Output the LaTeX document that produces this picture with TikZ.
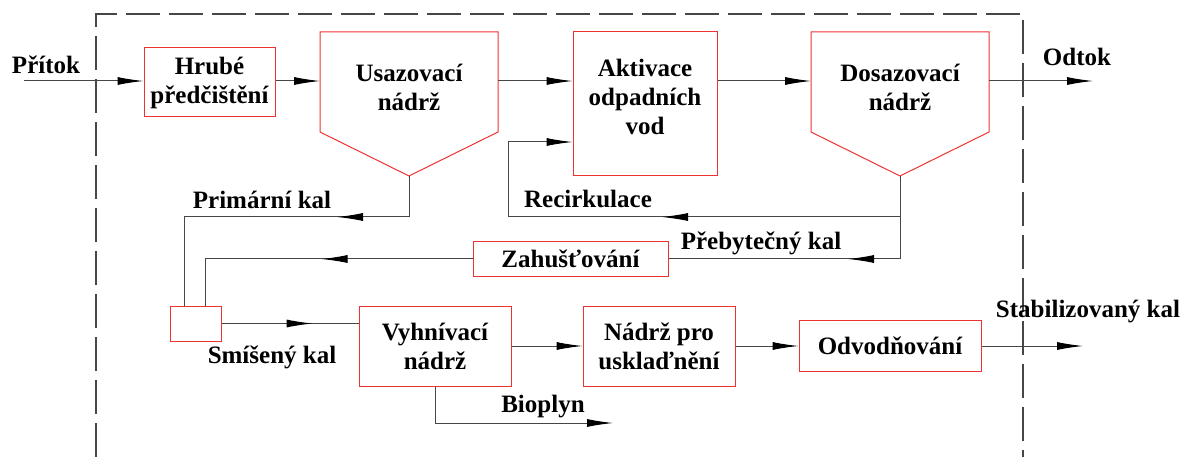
\documentclass[tikz,border=0pt]{standalone}
\usepackage{fontspec}
\setmainfont{Liberation Serif}
\usetikzlibrary{arrows.meta,decorations.markings}
\definecolor{boxred}{RGB}{238,50,50}
\definecolor{linegray}{RGB}{70,70,70}
\tikzset{
  flowhead/.tip={Latex[length=26pt,width=8pt,color=black]},
  unit/.style={draw=boxred, line width=1pt, inner sep=0pt, align=center},
  tag/.style={inner sep=0pt, align=center},
  pipe/.style={draw=linegray, line width=1pt},
  flow/.style={pipe, -flowhead},
  midtip/.style={postaction={decorate,decoration={markings,mark=at position #1 with {\arrow{flowhead}}}}},
  border/.style={draw=linegray, line width=1.5pt, dash pattern=on 34pt off 9pt}
}
\begin{document}
\begin{tikzpicture}[x=1pt, y=-1pt, font=\fontsize{25}{29}\selectfont\bfseries]
    \useasboundingbox (0,0) rectangle (1181,457) ;
    \draw [border] (96,457) -- (96,14) -- (1023,14) -- (1023,457) ;

    % upper line
    \node [unit, minimum width=131pt, minimum height=69pt] (hrube) at (209.5,82.5) {Hrubé\\předčištění} ;
    \node [tag] (usaz) at (409,87) {Usazovací\\nádrž} ;
    \draw [boxred, line width=1pt] (320,32) coordinate (usaz-nw) -- (498,32) coordinate (usaz-ne) -- (498,132) -- (409,176) coordinate (usaz-tip) -- (320,132) -- cycle ;
    \node [unit, minimum width=144pt, minimum height=144pt] (aktiv) at (645,104) {} ;
    \node [tag] (aktivtext) at (645,97) {Aktivace\\odpadních\\vod} ;
    \node [tag] (dosaz) at (900,87) {Dosazovací\\nádrž} ;
    \draw [boxred, line width=1pt] (811,32) coordinate (dosaz-nw) -- (989,32) coordinate (dosaz-ne) -- (989,132) -- (900,176) coordinate (dosaz-tip) -- (811,132) -- cycle ;

    % lower line
    \node [unit, minimum width=195pt, minimum height=34pt] (zahus) at (570.5,259) {Zahušťování} ;
    \node [unit, minimum width=51pt, minimum height=35pt] (mix) at (195.5,323.5) {} ;
    \node [unit, minimum width=152pt, minimum height=80pt] (vyhn) at (435,346) {Vyhnívací\\nádrž} ;
    \node [unit, minimum width=152pt, minimum height=80pt] (sklad) at (659,346) {Nádrž pro\\usklaďnění} ;
    \node [unit, minimum width=182pt, minimum height=51pt] (odvod) at (890,346) {Odvodňování} ;

    \coordinate (vtok) at (24,81) ;
    \coordinate (odtok) at (1093,81) ;
    \coordinate (kalven) at (1083,346) ;
    \coordinate (plyn) at (613,423) ;
    \coordinate (recirk) at (508,142) ;

    \draw [flow] (vtok) -- (vtok -| hrube.west) ;
    \draw [flow] (hrube.east |- vtok) -- (vtok -| usaz-nw) ;
    \draw [flow] (usaz-ne |- vtok) -- (vtok -| aktiv.west) ;
    \draw [flow] (aktiv.east |- vtok) -- (vtok -| dosaz-nw) ;
    \draw [flow] (dosaz-ne |- vtok) -- (odtok) ;

    \draw [flow, midtip=279pt] (dosaz-tip) -- ++(0,41) -| (recirk) -- (recirk -| aktiv.west) ;
    \draw [pipe, midtip=135pt] (dosaz-tip) |- (zahus.east) ;
    \draw [pipe, midtip=113pt] (usaz-tip) -- ++(0,41) -| ([xshift=-11.5pt]mix.north) ;
    \draw [pipe, midtip=151pt] (zahus.west) -| ([xshift=9.5pt]mix.north) ;
    \draw [pipe, midtip=91pt] (mix.east) -- (mix.east -| vyhn.west) ;
    \draw [flow] (vyhn) -- (sklad) ;
    \draw [flow] (sklad) -- (odvod) ;
    \draw [flow] (odvod) -- (kalven) ;
    \draw [flow] (vyhn.south) |- (plyn) ;

    % labels
    \node [tag] (pritok) at (46,65) {Přítok} ;
    \node [tag] (odtoktag) at (1077,57) {Odtok} ;
    \node [tag] (primar) at (262,200) {Primární kal} ;
    \node [tag] (recirktag) at (588,199) {Recirkulace} ;
    \node [tag] (prebyt) at (761,243) {Přebytečný kal} ;
    \node [tag] (smis) at (272,357) {Smíšený kal} ;
    \node [tag] (bioplyn) at (543,407) {Bioplyn} ;
    \node [tag] (stabil) at (1088,312) {Stabilizovaný kal} ;
\end{tikzpicture}
\end{document}
